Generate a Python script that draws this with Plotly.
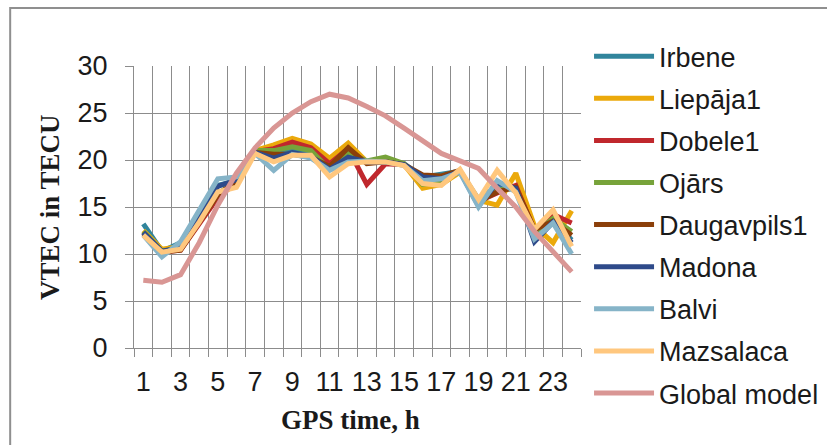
import plotly.graph_objects as go

hours = list(range(1, 25))
x_tick_labels = [str(h) for h in range(1, 24, 2)]

names = ["Irbene", "Liepāja1", "Dobele1", "Ojārs", "Daugavpils1",
         "Madona", "Balvi", "Mazsalaca", "Global model"]
colors = ["#31859C", "#EBA90B", "#C0282D", "#77A33A", "#8B3F0A",
          "#2E4A8A", "#86B4C8", "#FFC77E", "#D99694"]

irbene = [13.2, 10.3, 11.2, 14.0, 17.3, 17.8, 20.8, 20.5, 21.0, 20.6, 19.2, 20.2,
          19.8, 19.8, 19.6, 18.2, 18.5, 18.8, 15.8, 17.2, 17.0, 12.0, 13.6, 11.5]
liepaja1 = [12.5, 10.5, 10.8, 13.5, 16.2, 17.5, 21.0, 21.6, 22.3, 21.7, 20.2, 21.8,
            19.8, 19.9, 19.5, 17.0, 17.4, 18.7, 15.7, 15.2, 18.6, 13.0, 11.2, 14.6]
dobele1 = [12.3, 10.2, 10.4, 13.2, 16.0, 17.6, 20.9, 21.2, 21.9, 21.3, 19.6, 21.2,
           17.4, 19.6, 19.5, 18.0, 17.8, 18.8, 15.6, 16.5, 17.3, 12.5, 14.2, 13.3]
ojars = [12.4, 10.3, 10.6, 13.4, 16.4, 17.7, 21.0, 21.0, 21.4, 21.0, 19.0, 20.8,
         19.9, 20.3, 19.6, 17.4, 17.7, 18.8, 15.5, 16.8, 17.0, 12.2, 13.8, 12.4]
daugavpils1 = [12.2, 10.2, 10.4, 13.3, 16.3, 17.8, 20.8, 20.6, 20.6, 20.3, 19.3, 21.3,
               19.6, 19.8, 19.5, 18.4, 18.3, 18.9, 15.6, 16.6, 17.1, 12.6, 13.5, 12.0]
madona = [12.3, 10.3, 10.7, 13.8, 17.2, 17.9, 20.8, 20.2, 20.8, 20.4, 19.0, 20.3,
          19.8, 19.8, 19.5, 18.2, 18.0, 18.8, 15.1, 17.6, 17.0, 11.3, 13.4, 11.2]
balvi = [12.0, 9.7, 11.3, 14.6, 18.0, 18.2, 20.7, 18.9, 20.6, 20.2, 18.9, 19.8,
         19.9, 19.8, 19.4, 17.8, 18.0, 18.7, 15.0, 17.8, 16.6, 11.6, 13.3, 10.0]
mazsalaca = [12.0, 10.2, 10.5, 13.4, 16.6, 17.1, 20.7, 19.8, 20.5, 20.5, 18.2, 19.6,
             19.8, 19.8, 19.4, 17.5, 17.3, 19.0, 15.8, 18.9, 16.5, 12.6, 14.7, 10.8]
global_model = [7.2, 7.0, 7.8, 11.2, 15.2, 18.6, 21.3, 23.4, 25.0, 26.2, 27.0, 26.6,
                25.7, 24.7, 23.4, 22.1, 20.7, 19.9, 19.1, 17.0, 15.0, 12.4, 10.3, 8.1]

series = [irbene, liepaja1, dobele1, ojars, daugavpils1, madona, balvi, mazsalaca, global_model]

fig = go.Figure()
for name, color, vals in zip(names, colors, series):
    fig.add_trace(go.Scatter(
        x=hours, y=vals, mode="lines", name=name, legendgroup=name,
        line=dict(color=color, width=5),
    ))

grid_col = "#8C8C8C"
txt_col = "#1a1a1a"
fig.update_layout(
    width=827, height=445,
    margin=dict(l=134, r=246, t=66, b=97, autoexpand=False),
    paper_bgcolor="white", plot_bgcolor="white",
    font=dict(family="Liberation Sans, Arial", size=27, color=txt_col),
    showlegend=True,
    legend=dict(
        x=1.018, y=1.12, xanchor="left", yanchor="top",
        font=dict(family="Liberation Sans, Arial", size=27, color=txt_col),
        tracegroupgap=4, bgcolor="rgba(0,0,0,0)", itemwidth=60,
        maxheight=445,
    ),
    xaxis=dict(
        range=[0.5, 24.5], tickmode="array",
        tickvals=list(range(1, 24, 2)), ticktext=x_tick_labels,
        showgrid=False, ticks="", showline=True, linecolor=grid_col, linewidth=1,
        ticklabelstandoff=10,
        minor=dict(tickmode="array", tickvals=[h + 0.5 for h in range(0, 25)],
                   showgrid=True, gridcolor=grid_col, gridwidth=1,
                   ticks="outside", ticklen=8, tickcolor=grid_col),
        zeroline=False,
    ),
    yaxis=dict(
        range=[0, 30], tickmode="array", tickvals=list(range(0, 31, 5)),
        showgrid=True, gridcolor=grid_col, gridwidth=1,
        ticks="outside", ticklen=8, tickcolor=grid_col,
        showline=True, linecolor=grid_col, linewidth=1,
        ticklabelstandoff=12, zeroline=False,
    ),
    annotations=[
        dict(text="<b>GPS time, h</b>", xref="paper", yref="paper",
             x=0.485, y=-0.255, xanchor="center", yanchor="middle", showarrow=False,
             font=dict(family="Liberation Serif, Times New Roman", size=27, color=txt_col)),
        dict(text="<b>VTEC in TECU</b>", xref="paper", yref="paper",
             x=-0.188, y=0.5, xanchor="center", yanchor="middle", showarrow=False,
             textangle=-90,
             font=dict(family="Liberation Serif, Times New Roman", size=27, color=txt_col)),
    ],
    shapes=[
        dict(type="rect", xref="paper", yref="paper",
             x0=-0.277, x1=2.0, y0=-1.0, y1=1.206,
             line=dict(color="#8F8F8F", width=2), fillcolor="rgba(0,0,0,0)", layer="below"),
    ],
)

fig.write_html("out.html")
